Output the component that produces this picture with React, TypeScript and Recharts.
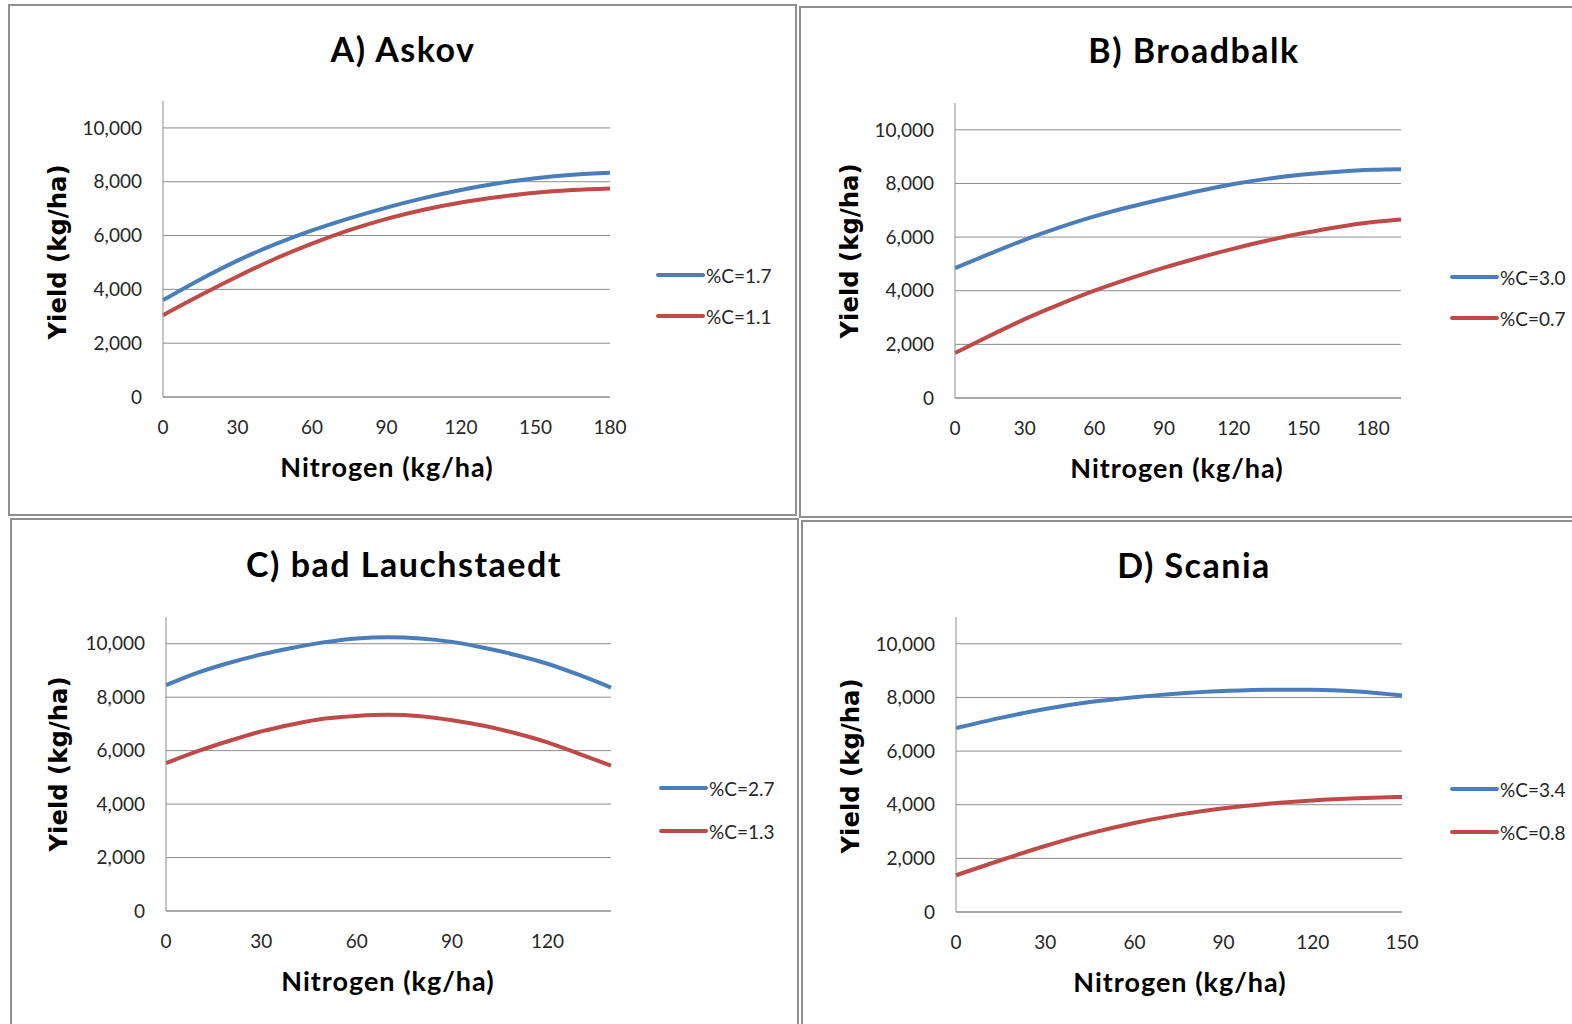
import { Line, LineChart, ReferenceLine, XAxis, YAxis } from "recharts"

// nitrogen rate (kg/ha) and yield (kg/ha)
const askovN = [0, 15, 30, 45, 60, 75, 90, 105, 120, 135, 150, 165, 180]
const askovC17 = [3600, 4370, 5070, 5670, 6190, 6640, 7040, 7390, 7690, 7940, 8130, 8260, 8330]
const askovC11 = [3040, 3780, 4480, 5130, 5700, 6200, 6620, 6960, 7230, 7430, 7590, 7690, 7750]

const broadbalkN = [0, 15, 30, 45, 60, 75, 90, 105, 120, 135, 150, 165, 180, 192]
const broadbalkC30 = [4840, 5380, 5900, 6360, 6770, 7120, 7430, 7720, 7980, 8180, 8330, 8440, 8510, 8530]
const broadbalkC07 = [1680, 2320, 2940, 3490, 4000, 4450, 4860, 5230, 5570, 5880, 6150, 6380, 6560, 6660]

const lauchN = [0, 10, 20, 30, 40, 50, 60, 70, 80, 90, 100, 110, 120, 130, 140]
const lauchC27 = [8450, 8920, 9290, 9600, 9850, 10060, 10200, 10240, 10200, 10070, 9850, 9580, 9250, 8830, 8360]
const lauchC13 = [5530, 5980, 6370, 6720, 6990, 7200, 7300, 7340, 7290, 7140, 6930, 6650, 6310, 5880, 5440]

const scaniaN = [0, 15, 30, 45, 60, 75, 90, 105, 120, 135, 150]
const scaniaC34 = [6860, 7240, 7570, 7830, 8010, 8150, 8240, 8290, 8290, 8220, 8070]
const scaniaC08 = [1370, 1930, 2460, 2930, 3320, 3630, 3870, 4040, 4160, 4240, 4290]

const yTicks = [0, 2000, 4000, 6000, 8000, 10000]
const ticks180 = [0, 30, 60, 90, 120, 150, 180]
const ticks120 = [0, 30, 60, 90, 120]
const ticks150 = [0, 30, 60, 90, 120, 150]

const BLUE = "#4a7ebb"
const RED = "#be4b48"
const GRID = "#8c8c8c"
const Y_AXIS_W = 80
const X_AXIS_H = 30

const toRows = (n: number[], hi: number[], lo: number[]) =>
	n.map((v, i) => ({ n: v, hi: hi[i], lo: lo[i] }))

const panels = [
	{
		title: "A) Askov",
		box: { x: 8, y: 4, w: 789, h: 512 },
		plot: { L: 163, R: 610, T: 101, B: 397 },
		xMax: 180,
		xTicks: ticks180,
		data: toRows(askovN, askovC17, askovC11),
		names: ["%C=1.7", "%C=1.1"],
		titleX: 403,
		titleY: 62,
		xLabelX: 387,
		yLabelX: 57,
		yLabelY: 252,
		legendX: 658,
		legendY: [275, 316],
	},
	{
		title: "B) Broadbalk",
		box: { x: 799, y: 6, w: 790, h: 512 },
		plot: { L: 955, R: 1401, T: 103, B: 398 },
		xMax: 192,
		xTicks: ticks180,
		data: toRows(broadbalkN, broadbalkC30, broadbalkC07),
		names: ["%C=3.0", "%C=0.7"],
		titleX: 1194,
		titleY: 63,
		xLabelX: 1177,
		yLabelX: 849,
		yLabelY: 251,
		legendX: 1452,
		legendY: [277, 318],
	},
	{
		title: "C) bad Lauchstaedt",
		box: { x: 10, y: 518, w: 789, h: 520 },
		plot: { L: 166, R: 611, T: 617, B: 911 },
		xMax: 140,
		xTicks: ticks120,
		data: toRows(lauchN, lauchC27, lauchC13),
		names: ["%C=2.7", "%C=1.3"],
		titleX: 404,
		titleY: 577,
		xLabelX: 388,
		yLabelX: 58,
		yLabelY: 764,
		legendX: 661,
		legendY: [788, 831],
	},
	{
		title: "D) Scania",
		box: { x: 801, y: 520, w: 790, h: 520 },
		plot: { L: 956, R: 1402, T: 617, B: 912 },
		xMax: 150,
		xTicks: ticks150,
		data: toRows(scaniaN, scaniaC34, scaniaC08),
		names: ["%C=3.4", "%C=0.8"],
		titleX: 1194,
		titleY: 578,
		xLabelX: 1180,
		yLabelX: 850,
		yLabelY: 766,
		legendX: 1452,
		legendY: [789, 832],
	},
]

const tickStyle = { fontSize: 19, fill: "#262626", fontFamily: "Lato, 'Open Sans', sans-serif" }

export default function App() {
	return (
		<div
			style={{
				position: "absolute",
				left: 0,
				top: 0,
				width: 1572,
				height: 1024,
				overflow: "hidden",
				background: "#fff",
			}}
		>
			{panels.map((p) => (
				<div
					key={p.title + "-box"}
					style={{
						position: "absolute",
						left: p.box.x,
						top: p.box.y,
						width: p.box.w,
						height: p.box.h,
						border: "2px solid #8f8f8f",
						boxSizing: "border-box",
					}}
				/>
			))}

			{panels.map((p) => (
				<div
					key={p.title}
					style={{ position: "absolute", left: p.box.x, top: p.box.y }}
				>
					<LineChart
						width={p.box.w}
						height={p.box.h}
						data={p.data}
						margin={{
							top: p.plot.T - p.box.y,
							left: p.plot.L - p.box.x - Y_AXIS_W,
							right: p.box.x + p.box.w - p.plot.R,
							bottom: p.box.y + p.box.h - p.plot.B - X_AXIS_H,
						}}
					>
						{yTicks.map((v) => (
							<ReferenceLine key={v} y={v} stroke={GRID} strokeWidth={1} />
						))}
						<XAxis
							type="number"
							dataKey="n"
							domain={[0, p.xMax]}
							ticks={p.xTicks}
							height={X_AXIS_H}
							tickLine={false}
							tickSize={0}
							tickMargin={24}
							axisLine={{ stroke: GRID }}
							tick={tickStyle}
						/>
						<YAxis
							type="number"
							domain={[0, 11000]}
							ticks={yTicks}
							width={Y_AXIS_W}
							tickLine={false}
							tickSize={0}
							tickMargin={21}
							axisLine={{ stroke: GRID }}
							tick={tickStyle}
							tickFormatter={(v: number) => v.toLocaleString("en-US")}
						/>
						<Line
							type="monotone"
							dataKey="hi"
							name={p.names[0]}
							stroke={BLUE}
							strokeWidth={4}
							dot={false}
							isAnimationActive={false}
						/>
						<Line
							type="monotone"
							dataKey="lo"
							name={p.names[1]}
							stroke={RED}
							strokeWidth={4}
							dot={false}
							isAnimationActive={false}
						/>
					</LineChart>
				</div>
			))}

			<svg
				width={1572}
				height={1024}
				style={{ position: "absolute", left: 0, top: 0, pointerEvents: "none" }}
			>
				{panels.map((p) => (
					<g key={p.title + "-text"}>
						<text
							x={p.titleX}
							y={p.titleY}
							textAnchor="middle"
							fontFamily="Lato, sans-serif"
							fontWeight="bold"
							fontSize={34}
							letterSpacing={1.5}
							fill="#000"
						>
							{p.title}
						</text>
						<text
							x={p.xLabelX}
							y={p.plot.B + 80}
							textAnchor="middle"
							fontFamily="Lato, sans-serif"
							fontWeight="bold"
							fontSize={27}
							letterSpacing={1}
							fill="#000"
						>
							Nitrogen (kg/ha)
						</text>
						<text
							x={p.yLabelX}
							y={p.yLabelY}
							transform={`rotate(-90 ${p.yLabelX} ${p.yLabelY})`}
							textAnchor="middle"
							dominantBaseline="central"
							fontFamily="'DejaVu Sans', Verdana, sans-serif"
							fontWeight="bold"
							fontSize={25}
							textLength={175}
							lengthAdjust="spacingAndGlyphs"
							fill="#000"
						>
							Yield (kg/ha)
						</text>
						{p.names.map((name, i) => (
							<g key={name}>
								<line
									x1={p.legendX}
									x2={p.legendX + 45}
									y1={p.legendY[i]}
									y2={p.legendY[i]}
									stroke={i === 0 ? BLUE : RED}
									strokeWidth={4}
									strokeLinecap="round"
								/>
								<text
									x={p.legendX + 48}
									y={p.legendY[i]}
									dominantBaseline="central"
									fontFamily="Lato, sans-serif"
									fontSize={19}
									fill="#262626"
								>
									{name}
								</text>
							</g>
						))}
					</g>
				))}
			</svg>
		</div>
	)
}
